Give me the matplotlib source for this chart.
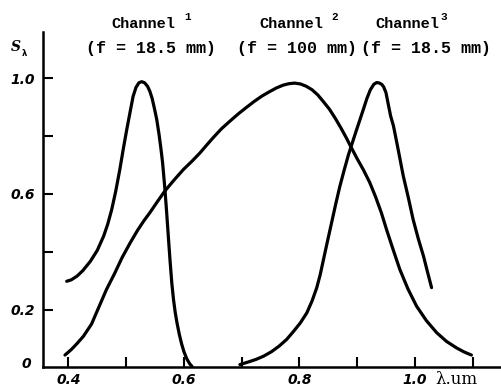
import matplotlib
matplotlib.use("Agg")
import matplotlib.pyplot as plt

# Channel 1 (f = 18.5 mm)
ch1_x = [0.397, 0.405, 0.415, 0.425, 0.438, 0.450, 0.461, 0.468, 0.475, 0.482, 0.489, 0.495,
         0.501, 0.507, 0.512, 0.517, 0.522, 0.527, 0.532, 0.537, 0.541, 0.545, 0.549, 0.553,
         0.557, 0.560, 0.563, 0.567, 0.570, 0.573, 0.576, 0.579, 0.582, 0.585, 0.588, 0.592,
         0.596, 0.600, 0.605, 0.610, 0.614]
ch1_y = [0.298, 0.303, 0.316, 0.335, 0.367, 0.405, 0.454, 0.495, 0.546, 0.610, 0.684, 0.755,
         0.822, 0.885, 0.937, 0.968, 0.984, 0.988, 0.984, 0.972, 0.955, 0.930, 0.895, 0.857,
         0.805, 0.760, 0.710, 0.620, 0.540, 0.454, 0.370, 0.293, 0.235, 0.190, 0.155, 0.115,
         0.082, 0.055, 0.030, 0.013, 0.004]

# Channel 2 (f = 100 mm)
ch2_x = [0.394, 0.405, 0.415, 0.426, 0.440, 0.453, 0.466, 0.480, 0.493, 0.507, 0.520, 0.531,
         0.541, 0.554, 0.567, 0.583, 0.599, 0.614, 0.628, 0.640, 0.651, 0.665, 0.680, 0.695,
         0.709, 0.722, 0.735, 0.748, 0.760, 0.772, 0.782, 0.792, 0.802, 0.812, 0.822, 0.832,
         0.842, 0.852, 0.862, 0.872, 0.881, 0.890, 0.900, 0.911, 0.922, 0.932, 0.942, 0.951,
         0.962, 0.974, 0.988, 1.003, 1.020, 1.038, 1.055, 1.072, 1.085, 1.098]
ch2_y = [0.043, 0.062, 0.083, 0.108, 0.150, 0.210, 0.270, 0.325, 0.380, 0.431, 0.475, 0.508,
         0.535, 0.573, 0.610, 0.648, 0.684, 0.713, 0.742, 0.770, 0.795, 0.825, 0.852, 0.878,
         0.900, 0.920, 0.938, 0.953, 0.966, 0.976, 0.981, 0.983, 0.980, 0.972, 0.960, 0.942,
         0.918, 0.893, 0.862, 0.828, 0.795, 0.760, 0.722, 0.683, 0.639, 0.590, 0.535, 0.477,
         0.410, 0.339, 0.272, 0.212, 0.162, 0.120, 0.090, 0.068, 0.054, 0.043]

# Channel 3 (f = 18.5 mm)
ch3_x = [0.697, 0.710, 0.725, 0.738, 0.752, 0.765, 0.778, 0.790, 0.802, 0.813, 0.822, 0.830,
         0.836, 0.842, 0.848, 0.853, 0.858, 0.863, 0.870, 0.878, 0.885, 0.891, 0.898, 0.905,
         0.911, 0.917, 0.923, 0.929, 0.934, 0.939, 0.943, 0.946, 0.950, 0.954, 0.958, 0.963,
         0.970, 0.980, 0.989, 0.997, 1.006, 1.015, 1.022, 1.029]
ch3_y = [0.010, 0.018, 0.028, 0.039, 0.055, 0.074, 0.097, 0.125, 0.155, 0.189, 0.230, 0.275,
         0.320, 0.375, 0.430, 0.475, 0.520, 0.565, 0.625, 0.685, 0.735, 0.772, 0.815, 0.857,
         0.893, 0.930, 0.960, 0.979, 0.985, 0.983, 0.978, 0.970, 0.950, 0.910, 0.870, 0.835,
         0.765, 0.662, 0.585, 0.512, 0.445, 0.385, 0.330, 0.276]

x_ticks = [0.4, 0.5, 0.6, 0.7, 0.8, 0.9, 1.0, 1.1]
x_tick_labels = ["0.4", "", "0.6", "", "0.8", "", "1.0", ""]
y_ticks = [0.2, 0.4, 0.6, 0.8, 1.0]
y_tick_labels = ["0.2", "", "0.6", "", "1.0"]

titles = ["Channel", "Channel", "Channel"]
title_sup = ["1", "2", "3"]
title_sub = ["(f = 18.5 mm)", "(f = 100 mm)", "(f = 18.5 mm)"]

W, H = 502, 389
fig = plt.figure(figsize=(W / 100, H / 100), dpi=100)
ax = fig.add_axes([0.0857, 0.0553, 0.9143, 0.8627])

for xs, ys in [(ch1_x, ch1_y), (ch2_x, ch2_y), (ch3_x, ch3_y)]:
    ax.plot(xs, ys, color="black", lw=2.3, solid_capstyle="round", solid_joinstyle="round")

ax.set_xlim(0.356, 1.151)
ax.set_ylim(0.0, 1.16)
for s in ["top", "right"]:
    ax.spines[s].set_visible(False)
for s in ["left", "bottom"]:
    ax.spines[s].set_linewidth(1.8)

tick_font = dict(family="DejaVu Sans", style="italic", weight="semibold", size=10)
ax.set_xticks(x_ticks)
ax.set_xticklabels(x_tick_labels, **tick_font)
ax.set_yticks(y_ticks)
ax.set_yticklabels(y_tick_labels, **tick_font)
ax.tick_params(axis="both", direction="in", length=7, width=1.5)
ax.tick_params(axis="x", pad=4)
ax.tick_params(axis="y", pad=6)

# "0" at origin
ax.text(-0.025, 0.012, "0", transform=ax.get_yaxis_transform(), ha="right", va="center",
        **tick_font)

# axis labels
ax.text(-0.048, 0.955, "S", transform=ax.transAxes, ha="right", va="center",
        family="DejaVu Serif", style="italic", weight="bold", size=10)
ax.text(-0.041, 0.935, "λ", transform=ax.transAxes, ha="center", va="center",
        family="DejaVu Sans", weight="bold", size=6)
ax.text(0.855, -0.035, "λ.um", transform=ax.transAxes, ha="left", va="center",
        family="DejaVu Serif", size=12)

# channel titles (positions in figure pixels)
title_cx = [143.5, 291.5, 407.5]
sup_x = [188, 335, 444]
sub_cx = [151, 297, 426.5]
for cx, t, sx, sup, scx, sub in zip(title_cx, titles, sup_x, title_sup, sub_cx, title_sub):
    fig.text(cx / W, 1 - 24 / H, t, ha="center", va="center",
             family="Liberation Mono", weight="bold", size=11)
    fig.text(sx / W, 1 - 17 / H, sup, ha="center", va="center",
             family="Liberation Mono", weight="bold", size=8)
    fig.text(scx / W, 1 - 48 / H, sub, ha="center", va="center",
             family="Liberation Mono", weight="bold", size=12)

fig.savefig("out.png", dpi=100)
